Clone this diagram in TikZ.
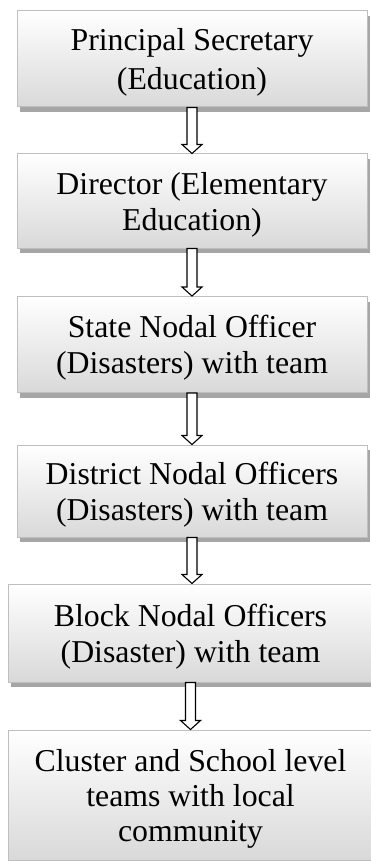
\documentclass[tikz,border=0pt]{standalone}
\usepackage{fontspec}
\setmainfont{Liberation Serif}
\usetikzlibrary{calc, shadows}

\begin{document}
\begin{tikzpicture}[
      x=1pt, y=-1pt,
      every node/.style={font=\fontsize{31.8}{36}\selectfont},
      tierbox/.style={rectangle, draw=black!25, line width=1pt, top color=white, bottom color=black!15,
        align=center, inner sep=2pt, minimum width=350pt, text depth=-5pt,
        drop shadow={shadow xshift=3pt, shadow yshift=-5pt, fill=black!35, opacity=1}},
      hollowdown/.style={draw, fill=white, line width=1.1pt, line join=miter}
    ]
    \useasboundingbox (0,0) rectangle (371,861);

    % chain of offices, top to bottom
    \node[tierbox, minimum height=96pt, font=\fontsize{31.8}{39}\selectfont] (ps) at (192,59) {Principal Secretary\\(Education)};
    \node[tierbox, minimum height=94pt] (dir) at (192,201) {Director (Elementary\\Education)};
    \node[tierbox, minimum height=96pt] (snode) at (192,344.5) {State Nodal Officer\\(Disasters) with team};
    \node[tierbox, minimum height=92pt] (dnode) at (192,491) {District Nodal Officers\\(Disasters) with team};
    \node[tierbox, minimum height=98pt, minimum width=365pt] (bnode) at (190.5,633) {Block Nodal Officers\\(Disaster) with team};
    \node[tierbox, minimum height=130pt, minimum width=365pt, font=\fontsize{31.8}{35}\selectfont] (cnode) at (190.5,795)
      {Cluster and School level\\teams with local\\community};

    % hollow arrows between the boxes
    \foreach \a/\b in {ps/dir, dir/snode, snode/dnode, dnode/bnode, bnode/cnode}
      \draw[hollowdown] let \p1=(\a.south), \p2=(\a.south |- \b.north) in
        (\x1-5pt,\y1) -- (\x1+5pt,\y1) -- (\x1+5pt,\y2+9pt) -- (\x1+10pt,\y2+9pt)
        -- (\x2,\y2) -- (\x1-10pt,\y2+9pt) -- (\x1-5pt,\y2+9pt) -- cycle;
\end{tikzpicture}
\end{document}
